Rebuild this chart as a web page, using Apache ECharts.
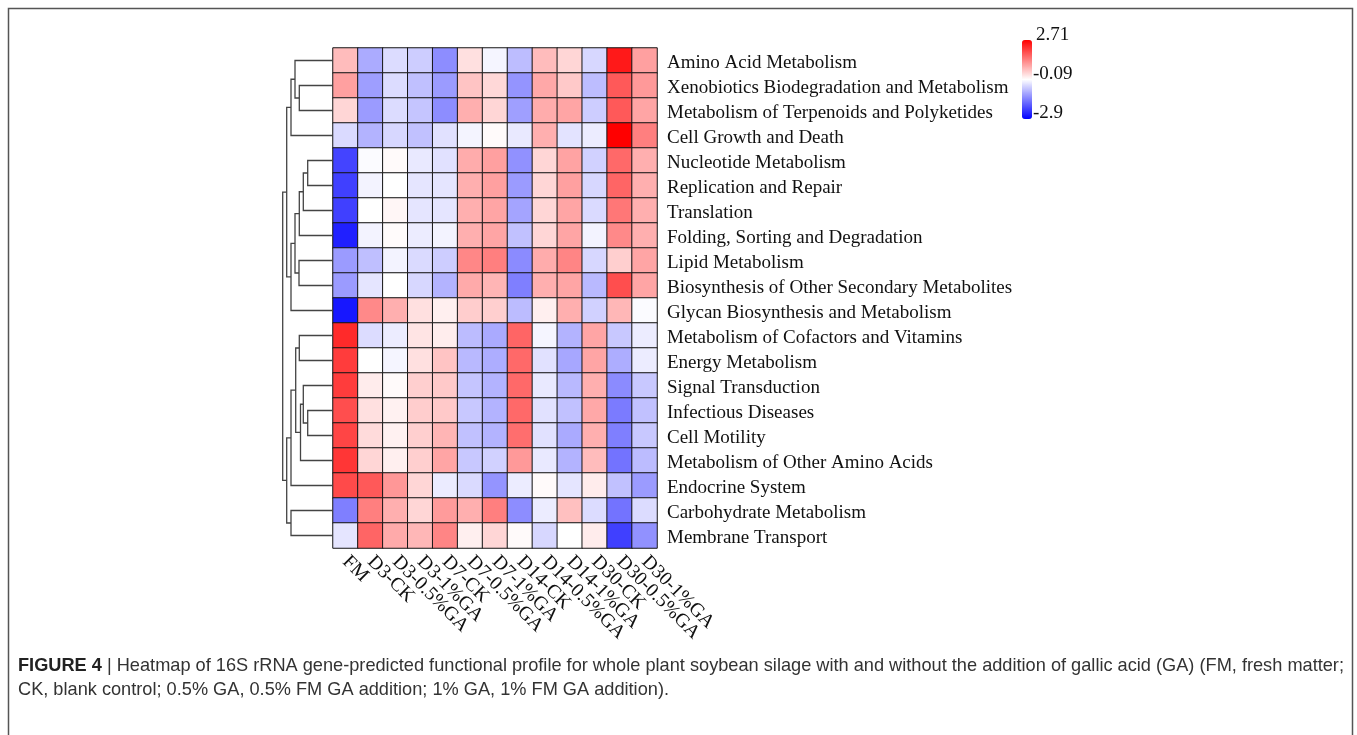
<!DOCTYPE html>
<html><head><meta charset="utf-8">
<script src="https://cdn.jsdelivr.net/npm/echarts@6/dist/echarts.min.js"></script>
<style>html,body{margin:0;padding:0;background:#fff}#c{width:1357px;height:735px}</style>
</head><body><div id="c"></div>
<script>
const rowLabels = [
  'Amino Acid Metabolism',
  'Xenobiotics Biodegradation and Metabolism',
  'Metabolism of Terpenoids and Polyketides',
  'Cell Growth and Death',
  'Nucleotide Metabolism',
  'Replication and Repair',
  'Translation',
  'Folding, Sorting and Degradation',
  'Lipid Metabolism',
  'Biosynthesis of Other Secondary Metabolites',
  'Glycan Biosynthesis and Metabolism',
  'Metabolism of Cofactors and Vitamins',
  'Energy Metabolism',
  'Signal Transduction',
  'Infectious Diseases',
  'Cell Motility',
  'Metabolism of Other Amino Acids',
  'Endocrine System',
  'Carbohydrate Metabolism',
  'Membrane Transport'
];
const colLabels = ['FM','D3-CK','D3-0.5%GA','D3-1%GA','D7-CK','D7-0.5%GA','D7-1%GA',
  'D14-CK','D14-0.5%GA','D14-1%GA','D30-CK','D30-0.5%GA','D30-1%GA'];

// z-scores, one row per function, columns in colLabels order
const heatValues = [
  [ 0.64,-1.02,-0.48,-0.65,-1.35, 0.25,-0.20,-0.82, 0.64, 0.36,-0.54, 2.43, 0.95],
  [ 0.95,-1.16,-0.48,-0.79,-1.19, 0.55, 0.33,-1.27, 0.86, 0.50,-0.82, 1.73, 1.03],
  [ 0.36,-1.20,-0.48,-0.73,-1.35, 0.78, 0.36,-1.15, 0.82, 0.90,-0.65, 1.73, 0.90],
  [-0.50,-0.93,-0.54,-0.78,-0.43,-0.22,-0.04,-0.34, 0.78,-0.40,-0.30, 2.71, 1.31],
  [-2.15,-0.14,-0.04,-0.34,-0.43, 0.82, 0.95,-1.30, 0.36, 0.92,-0.60, 1.56, 0.78],
  [-2.20,-0.23,-0.09,-0.38,-0.38, 0.78, 0.95,-1.19, 0.36, 0.95,-0.54, 1.60, 0.78],
  [-2.20,-0.09, 0.00,-0.38,-0.38, 0.78, 0.90,-1.10, 0.36, 0.90,-0.50, 1.40, 0.78],
  [-2.55,-0.23,-0.05,-0.30,-0.23, 0.78, 0.90,-0.78, 0.36, 0.90,-0.23, 1.20, 0.78],
  [-1.19,-0.80,-0.23,-0.50,-0.65, 1.22, 1.31,-1.37, 0.82, 1.25,-0.54, 0.43, 0.90],
  [-1.20,-0.38,-0.09,-0.54,-0.93, 0.84, 0.72,-1.50, 0.78, 0.90,-0.87, 1.85, 0.90],
  [-2.65, 1.20, 0.78, 0.25, 0.08, 0.45, 0.43,-0.83, 0.08, 0.78,-0.60, 0.70,-0.14],
  [ 2.25,-0.48,-0.30, 0.20, 0.10,-0.83,-1.03, 1.60,-0.20,-0.93, 0.90,-0.70,-0.30],
  [ 2.05,-0.09,-0.20, 0.25, 0.55,-0.87,-1.00, 1.56,-0.43,-1.06, 0.90,-1.00,-0.30],
  [ 2.05, 0.11,-0.04, 0.43, 0.50,-0.73,-0.93, 1.56,-0.34,-0.87, 0.78,-1.37,-0.70],
  [ 1.85, 0.25, 0.06, 0.45, 0.50,-0.70,-0.93, 1.56,-0.43,-0.78, 0.86,-1.55,-0.78],
  [ 1.95, 0.30, 0.06, 0.43, 0.72,-0.78,-0.93, 1.50,-0.43,-1.03, 0.78,-1.50,-0.70],
  [ 2.12, 0.36, 0.08, 0.43, 0.90,-0.70,-0.60, 1.03,-0.34,-0.93, 0.64,-1.63,-0.83],
  [ 1.90, 1.73, 1.05, 0.36,-0.32,-0.50,-1.27,-0.30,-0.04,-0.38, 0.11,-0.78,-1.19],
  [-1.50, 1.31, 0.78, 0.36, 1.00, 0.78, 1.31,-1.35,-0.30, 0.60,-0.48,-1.63,-0.48],
  [-0.38, 1.60, 0.84, 0.70, 1.25, 0.08, 0.36,-0.04,-0.54,-0.09, 0.11,-2.20,-1.30]
];

const scaleMin = -2.9, scaleMax = 2.71;
const legendLabels = ['2.71', '-0.09', '-2.9'];

// Row dendrogram, hclust-style merge list: negative = leaf (row index + 1), positive = earlier merge (1-based)
const dendroMerges = [
  [-2, -3, 33.7],
  [-1, 1, 38.0],
  [2, -4, 42.0],
  [-5, -6, 25.3],
  [4, -7, 29.7],
  [5, -8, 33.7],
  [-9, -10, 34.0],
  [6, 7, 38.0],
  [8, -11, 42.0],
  [3, 9, 46.3],
  [-12, -13, 33.7],
  [-15, -16, 25.3],
  [-14, 12, 29.7],
  [13, -17, 32.5],
  [11, 14, 37.3],
  [15, -18, 42.0],
  [-19, -20, 42.0],
  [16, 17, 46.3],
  [10, 18, 50.3]
];
const dendroMaxHeight = 63;

const captionBold = 'FIGURE 4';
const captionLine1 = ' | Heatmap of 16S rRNA gene-predicted functional profile for whole plant soybean silage with and without the addition of gallic acid (GA) (FM, fresh matter;';
const captionLine2 = 'CK, blank control; 0.5% GA, 0.5% FM GA addition; 1% GA, 1% FM GA addition).';

// build heatmap data
const heatData = [];
heatValues.forEach((row, r) => row.forEach((v, c) => heatData.push([c, r, v])));

// build dendrogram segments
const nodePos = [];
function nodeOf(id) { return id < 0 ? { h: 0, y: -id - 1 } : nodePos[id - 1]; }
const dendroData = dendroMerges.map(m => {
  const a = nodeOf(m[0]), b = nodeOf(m[1]);
  nodePos.push({ h: m[2], y: (a.y + b.y) / 2 });
  return [a.h, a.y, m[2], b.y, b.h];
});

const serif = 'Liberation Serif, Times New Roman, serif';
const sans = 'Liberation Sans, Arial, sans-serif';
const chart = echarts.init(document.getElementById('c'), null, { renderer: 'canvas' });
chart.setOption({
  backgroundColor: '#fff',
  animation: false,
  grid: [
    { left: 333, top: 48, width: 324, height: 500 },
    { left: 270, top: 48, width: 63, height: 500 }
  ],
  xAxis: [
    {
      type: 'category', gridIndex: 0, data: colLabels, position: 'bottom',
      axisLine: { show: false },
      axisTick: { alignWithLabel: true, length: 5, lineStyle: { color: '#999' } },
      axisLabel: { rotate: -45, interval: 0, margin: 11, fontFamily: serif, fontSize: 19.5, color: '#111' },
      splitLine: { show: false }
    },
    { type: 'value', gridIndex: 1, min: 0, max: dendroMaxHeight, inverse: true, show: false }
  ],
  yAxis: [
    {
      type: 'category', gridIndex: 0, data: rowLabels, position: 'right', inverse: true,
      axisLine: { show: false },
      axisTick: { alignWithLabel: true, length: 4, lineStyle: { color: '#999' } },
      axisLabel: {
        interval: 0, margin: 10, formatter: '{a|{value}}',
        rich: { a: { fontFamily: serif, fontSize: 19, color: '#111', padding: [5, 0, 0, 0] } }
      },
      splitLine: { show: false }
    },
    { type: 'value', gridIndex: 1, min: -0.5, max: rowLabels.length - 0.5, inverse: true, show: false }
  ],
  visualMap: {
    type: 'continuous', min: scaleMin, max: scaleMax, seriesIndex: 0,
    orient: 'vertical', left: 1022, top: 40, itemWidth: 10, itemHeight: 79,
    padding: 0, calculable: false, text: null, showLabel: false, hoverLink: false,
    inRange: { color: ['#0000ff', '#ffffff', '#ff0000'] }
  },
  series: [
    {
      type: 'heatmap', xAxisIndex: 0, yAxisIndex: 0, data: heatData,
      itemStyle: { borderColor: '#151515', borderWidth: 1 },
      emphasis: { disabled: true }
    },
    {
      type: 'custom', xAxisIndex: 1, yAxisIndex: 1, data: dendroData,
      encode: { x: [0, 2, 4], y: [1, 3] },
      renderItem: function (params, api) {
        const ha = api.value(0), ya = api.value(1), h = api.value(2), yb = api.value(3), hb = api.value(4);
        const pts = [api.coord([ha, ya]), api.coord([h, ya]), api.coord([h, yb]), api.coord([hb, yb])];
        return { type: 'polyline', shape: { points: pts }, style: { stroke: '#444', lineWidth: 1.3, fill: null } };
      }
    }
  ],
  graphic: [
    { type: 'rect', shape: { x: 8.5, y: 8.5, width: 1344, height: 800 }, style: { fill: null, stroke: '#555', lineWidth: 1.5 }, silent: true },
    { type: 'text', left: 1036, top: 26, style: { text: legendLabels[0], font: '19px ' + serif, fill: '#111' } },
    { type: 'text', left: 1033, top: 65, style: { text: legendLabels[1], font: '19px ' + serif, fill: '#111' } },
    { type: 'text', left: 1033, top: 104, style: { text: legendLabels[2], font: '19px ' + serif, fill: '#111' } },
    {
      type: 'text', left: 18, top: 657,
      style: {
        text: '{b|' + captionBold + '}' + captionLine1,
        font: '18.2px ' + sans, fill: '#333',
        rich: { b: { fontWeight: 'bold', fontSize: 18.2, fontFamily: sans, fill: '#222' } }
      }
    },
    {
      type: 'text', left: 18, top: 681,
      style: { text: captionLine2, font: '18.2px ' + sans, fill: '#333' }
    }
  ]
});
</script>
</body></html>
